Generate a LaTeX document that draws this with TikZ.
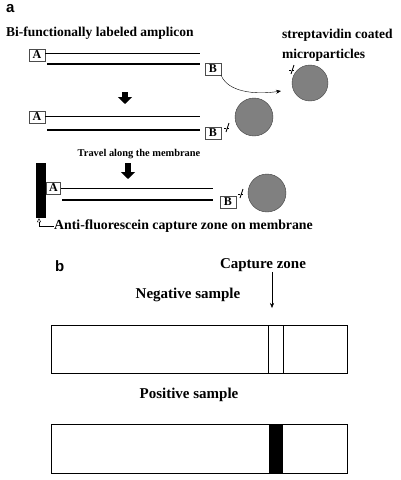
\documentclass[tikz,border=0pt]{standalone}
\usepackage{fontspec}
\setmainfont{Liberation Serif}
\newfontfamily\panelfont{Liberation Sans}
\usetikzlibrary{positioning,arrows.meta}
\definecolor{beadgray}{rgb}{0.5,0.5,0.5}
\tikzset{
    tag/.style={
    rectangle,draw=black!70,thin,fill=white,inner sep=0pt,minimum width=16pt,minimum height=12.5pt,font=\bfseries\fontsize{12}{12}\selectfont
    },
    bead/.style={
    circle,draw=black!75,fill=beadgray,inner sep=0pt
    },
    thinstrand/.style={draw,line width=0.9pt},
    thickstrand/.style={draw,line width=2.2pt},
    heading/.style={inner sep=0pt,font=\bfseries\fontsize{13.5}{16}\selectfont},
    bigtext/.style={inner sep=0pt,font=\bfseries\fontsize{13.8}{16}\selectfont},
    striptext/.style={inner sep=0pt,font=\bfseries\fontsize{15}{17}\selectfont},
    panel/.style={inner sep=0pt,font=\panelfont\bfseries\fontsize{15}{15}\selectfont},
    fatarrow/.style={line width=6pt,-{Triangle[width=14pt,length=7pt]}},
    strip/.style={rectangle,draw,line width=1pt,inner sep=0pt,minimum width=296pt},
  linker/.pic={
    \draw[densely dotted,thin] (-4,0) -- (1,0);
    \draw[line width=0.9pt] (-2,4) -- (1,-5);
  }
}
\begin{document}
\begin{tikzpicture}[x=1pt,y=-1pt]
    \useasboundingbox (0,0) rectangle (400,480);

    % panel a
    \node[panel,anchor=west] (pa) at (6,9) {a};
    \node[heading,anchor=west] (amp) at (6,33) {Bi-functionally labeled amplicon};
    \node[heading,anchor=west] (strep) at (282,35) {streptavidin coated};
    \node[heading,anchor=west] (micro) at (282,55) {microparticles};

    % free amplicon
    \node[tag] (a1) at (37,55) {A};
    \node[tag] (b1) at (213,69) {B};
    \node[bead,minimum size=36pt] (bead1) at (310,83) {};
    \pic at (293,70) {linker};
    \coordinate (e1) at (200,53);
    \coordinate (s1) at (47,64);
    \coordinate (catch) at (281,91);

    % amplicon on bead
    \node[tag] (a2) at (37,117) {A};
    \node[tag] (b2) at (213,133) {B};
    \node[bead,minimum size=38pt] (bead2) at (254,117) {};
    \pic at (228,128) {linker};
    \coordinate (e2) at (200,116);
    \coordinate (s2) at (47,130);

    \node[inner sep=0pt,font=\bfseries\fontsize{10.4}{10}\selectfont] (travel) at (139,154) {Travel along the membrane};

    % captured complex
    \node[rectangle,fill=black,minimum width=10pt,minimum height=55pt,inner sep=0pt] (bar) at (41,190.5) {};
    \node[tag,minimum width=14pt] (a3) at (53.5,188) {A};
    \node[tag] (b3) at (228,202) {B};
    \node[bead,minimum size=38pt] (bead3) at (267,193) {};
    \pic at (242,194) {linker};
    \coordinate (e3) at (213,188);
    \coordinate (s3) at (62,200);
    \node[bigtext,anchor=west] (cap) at (54,226) {Anti-fluorescein capture zone on membrane};

    \path[thinstrand] (a1.east |- e1) -- (e1);
    \path[thickstrand] (s1) -- (s1 -| e1);
    \path[thinstrand] (a2.east |- e2) -- (e2);
    \path[thickstrand] (s2) -- (s2 -| e2);
    \path[thinstrand] (a3.east) -- (e3);
    \path[thickstrand] (s3) -- (s3 -| e3);

    \draw[thin,-{Stealth[length=5pt,width=4pt]}] (b1.south east) .. controls (228,92) and (255,95) .. (catch);
    \draw[fatarrow] (125,92) -- (125,104);
    \draw[fatarrow] (128,163) -- (128,179);
    \draw[thin,-{Triangle[open,length=4pt,width=4pt]}] (cap.west) -| ([xshift=-2pt]bar.south);

    % panel b
    \node[panel,anchor=west] (pb) at (55,266) {b};
    \node[striptext] (cz) at (263,265) {Capture zone};
    \node[striptext] (neglbl) at (188,295) {Negative sample};
    \node[striptext] (poslbl) at (189,395) {Positive sample};

    \node[strip,minimum height=48pt] (neg) at (199,349) {};
    \node[rectangle,draw,thin,inner sep=0pt,minimum width=15pt,minimum height=48pt] (negzone) at (275.5,349) {};
    \node[strip,minimum height=49pt] (pos) at (199,448.5) {};
    \node[rectangle,fill=black,inner sep=0pt,minimum width=14pt,minimum height=48pt] (poszone) at (276,448.5) {};

    \coordinate (zonetop) at (272,308);
    \draw[thin,-{Stealth[length=5pt,width=4pt]}] (cz.south -| zonetop) -- (zonetop);
\end{tikzpicture}
\end{document}
